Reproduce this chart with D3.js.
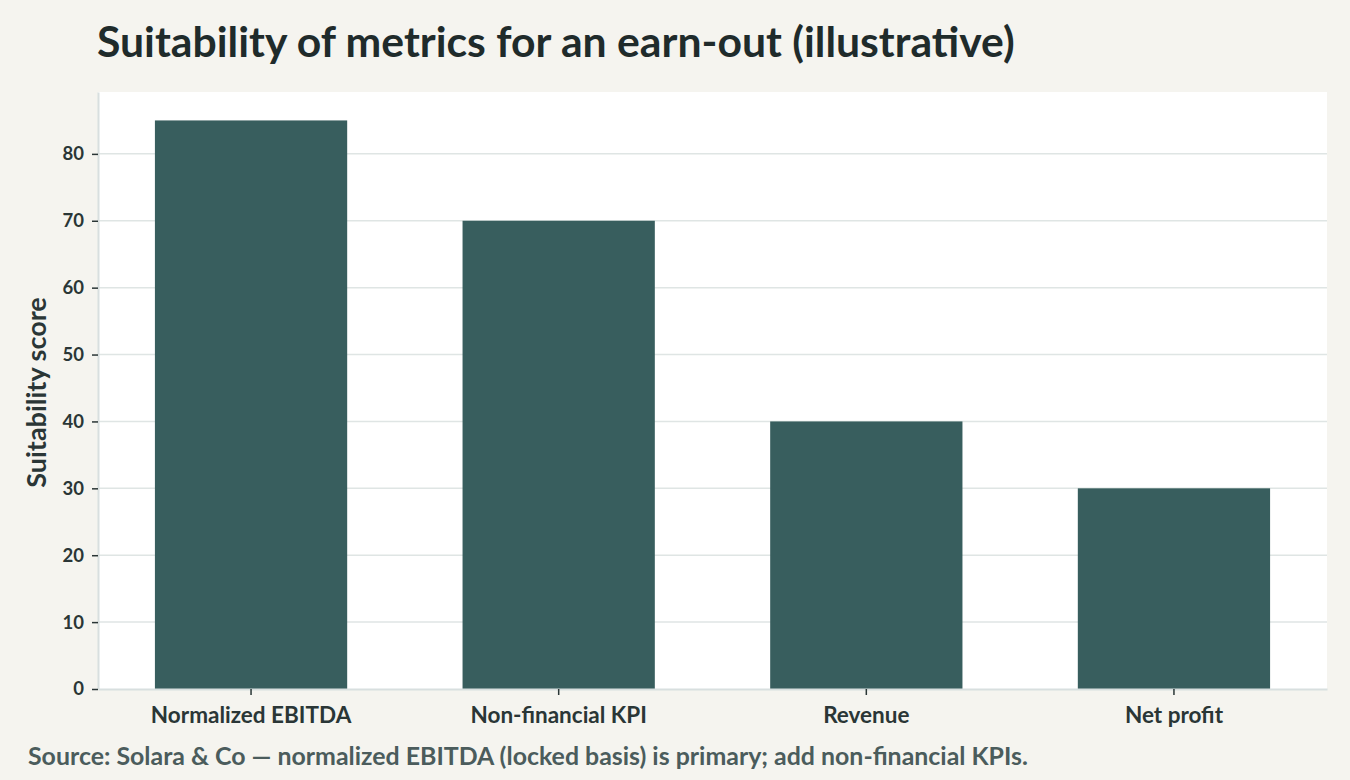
<!DOCTYPE html>
<html>
<head>
<meta charset="utf-8">
<script src="https://cdn.jsdelivr.net/npm/d3@7"></script>
<style>
  body { margin: 0; background: #f5f4ef; }
  svg { display: block; font-family: Lato, "Noto Sans", sans-serif; }
</style>
</head>
<body>
<div id="chart"></div>
<script>
// datos del grafico
const metrics = ["Normalized EBITDA", "Non-financial KPI", "Revenue", "Net profit"];
const scores = [85, 70, 40, 30];
const yTicks = [0, 10, 20, 30, 40, 50, 60, 70, 80];

const titleText = "Suitability of metrics for an earn-out (illustrative)";
const yLabel = "Suitability score";
const sourceText = "Source: Solara & Co \u2014 normalized EBITDA (locked basis) is primary; add non-financial KPIs.";

const W = 1350, H = 780;
const margin = { top: 92, right: 23, bottom: 91, left: 98 };
const innerW = W - margin.left - margin.right;
const innerH = H - margin.top - margin.bottom;

const svg = d3.select("#chart").append("svg")
  .attr("width", W)
  .attr("height", H);

svg.append("rect").attr("width", W).attr("height", H).attr("fill", "#f5f4ef");

const g = svg.append("g")
  .attr("transform", `translate(${margin.left},${margin.top})`);

// fondo del area de trazado
g.append("rect")
  .attr("width", innerW)
  .attr("height", innerH)
  .attr("fill", "#ffffff");

const x = d3.scaleBand()
  .domain(metrics)
  .range([0, innerW])
  .paddingInner(0.375)
  .paddingOuter(0.185);

const y = d3.scaleLinear()
  .domain([0, d3.max(scores) * 1.05])
  .range([innerH, 0]);

// lineas de cuadricula
g.append("g")
  .selectAll("line")
  .data(yTicks.filter(d => d > 0))
  .join("line")
  .attr("x1", 0)
  .attr("x2", innerW)
  .attr("y1", d => y(d))
  .attr("y2", d => y(d))
  .attr("stroke", "#dfe5e4")
  .attr("stroke-width", 1.5);

// barras
g.append("g")
  .selectAll("rect")
  .data(metrics.map((m, i) => ({ m, v: scores[i] })))
  .join("rect")
  .attr("x", d => x(d.m))
  .attr("y", d => y(d.v))
  .attr("width", x.bandwidth())
  .attr("height", d => innerH - y(d.v))
  .attr("fill", "#385e5e");

// ejes
const yAxis = g.append("g")
  .call(d3.axisLeft(y).tickValues(yTicks).tickSize(6).tickPadding(8).tickSizeOuter(0));
const xAxis = g.append("g")
  .attr("transform", `translate(0,${innerH})`)
  .call(d3.axisBottom(x).tickSize(6).tickPadding(10).tickSizeOuter(0));

[yAxis, xAxis].forEach(a => {
  a.select(".domain").attr("stroke", "#d8dfdf").attr("stroke-width", 2);
  a.selectAll(".tick line").attr("stroke", "#2a3636").attr("stroke-width", 1.5);
  a.selectAll(".tick text")
    .attr("fill", "#2a3636")
    .attr("font-family", "Lato, sans-serif")
    .attr("font-weight", "bold");
});
yAxis.selectAll(".tick text").attr("font-size", 18.5);
xAxis.selectAll(".tick text").attr("font-size", 22.5).attr("dy", "0.8em");

// etiqueta eje y
svg.append("text")
  .attr("transform", `translate(46,${margin.top + innerH / 2 + 2}) rotate(-90)`)
  .attr("text-anchor", "middle")
  .attr("font-size", 27)
  .attr("font-weight", "bold")
  .attr("fill", "#2a3636")
  .text(yLabel);

// titulo
svg.append("text")
  .attr("x", 97)
  .attr("y", 57)
  .attr("font-size", 42.7)
  .attr("font-weight", "bold")
  .attr("fill", "#1f2b2b")
  .text(titleText);

// fuente
svg.append("text")
  .attr("x", 28)
  .attr("y", 765)
  .attr("font-size", 24.9)
  .attr("font-weight", "bold")
  .attr("fill", "#4b5c5c")
  .text(sourceText);
</script>
</body>
</html>
